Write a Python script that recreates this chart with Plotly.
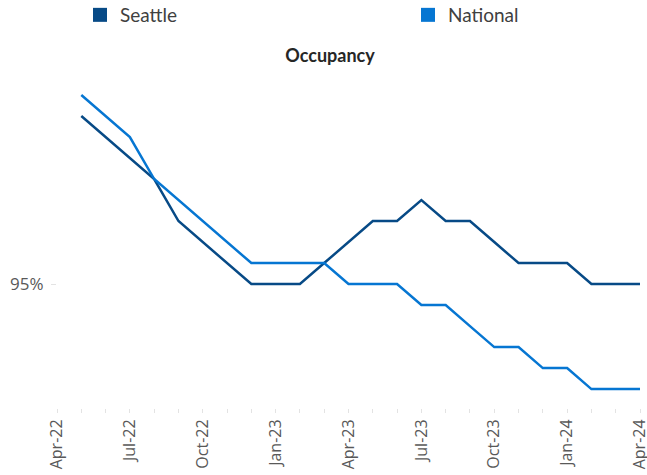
import plotly.graph_objects as go

months = ["Apr-22", "May-22", "Jun-22", "Jul-22", "Aug-22", "Sep-22", "Oct-22", "Nov-22",
          "Dec-22", "Jan-23", "Feb-23", "Mar-23", "Apr-23", "May-23", "Jun-23", "Jul-23",
          "Aug-23", "Sep-23", "Oct-23", "Nov-23", "Dec-23", "Jan-24", "Feb-24", "Mar-24", "Apr-24"]
tick_labels = ["Apr-22", "Jul-22", "Oct-22", "Jan-23", "Apr-23", "Jul-23", "Oct-23", "Jan-24", "Apr-24"]

seattle = [None, 95.8, 95.7, 95.6, 95.5, 95.3, 95.2, 95.1, 95.0, 95.0, 95.0, 95.1, 95.2,
           95.3, 95.3, 95.4, 95.3, 95.3, 95.2, 95.1, 95.1, 95.1, 95.0, 95.0, 95.0]
national = [None, 95.9, 95.8, 95.7, 95.5, 95.4, 95.3, 95.2, 95.1, 95.1, 95.1, 95.1, 95.0,
            95.0, 95.0, 94.9, 94.9, 94.8, 94.7, 94.7, 94.6, 94.6, 94.5, 94.5, 94.5]

SEA_C = "#074A86"
NAT_C = "#0676D2"

fig = go.Figure()
fig.add_trace(go.Scatter(x=months, y=seattle, mode="lines", name="Seattle",
                         line=dict(color=SEA_C, width=2.5), showlegend=False))
fig.add_trace(go.Scatter(x=months, y=national, mode="lines", name="National",
                         line=dict(color=NAT_C, width=2.5), showlegend=False))
# legend entries as squares
fig.add_trace(go.Scatter(x=[None], y=[None], mode="markers", name="Seattle", legend="legend",
                         marker=dict(symbol="square", size=14, color=SEA_C)))
fig.add_trace(go.Scatter(x=[None], y=[None], mode="markers", name="National", legend="legend2",
                         marker=dict(symbol="square", size=14, color=NAT_C)))

leg_common = dict(orientation="h", xanchor="left", xref="container",
                  yref="container", yanchor="middle",
                  font=dict(family="Lato", size=19, color="#404040"),
                  bgcolor="rgba(0,0,0,0)")

fig.update_layout(
    width=647, height=475,
    margin=dict(l=57, r=7, t=74, b=67, autoexpand=False),
    paper_bgcolor="white", plot_bgcolor="white",
    title=dict(text="<b>Occupancy</b>", x=330/647, xref="container", xanchor="center",
               y=1-56/475, yref="container", yanchor="middle",
               font=dict(family="Lato", size=18, color="#262626")),
    legend=dict(x=80/647, y=1-15/475, **leg_common),
    legend2=dict(x=408/647, y=1-15/475, **leg_common),
    xaxis=dict(type="category", categoryorder="array", categoryarray=months,
               range=[0, 24], tickmode="array", tickvals=months,
               ticktext=[m if m in tick_labels else "" for m in months],
               tickangle=-90, ticks="outside", ticklen=4, tickcolor="#e3e3e3",
               showgrid=False, showline=False, zeroline=False, automargin=False,
               tickfont=dict(family="Open Sans", size=16, color="#595959")),
    yaxis=dict(range=[94.41, 96.0], tickmode="array", tickvals=[95], ticktext=["95%"],
               ticks="outside", ticklen=5, tickcolor="#e3e3e3", ticklabelstandoff=4,
               showgrid=False, showline=False, zeroline=False, automargin=False,
               tickfont=dict(family="Open Sans", size=17, color="#595959")),
)

fig.write_html("out.html", config={"displayModeBar": False},
               post_script="document.body.style.margin='0';document.body.style.overflow='hidden';")
